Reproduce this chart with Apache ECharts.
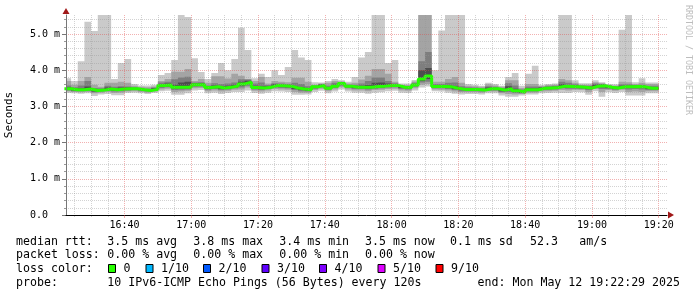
<!DOCTYPE html>
<html><head><meta charset="utf-8">
<script src="https://cdn.jsdelivr.net/npm/echarts@6/dist/echarts.min.js"></script>
<style>html,body{margin:0;padding:0;background:#fff}#c{width:697px;height:297px}</style>
</head><body><div id="c"></div>
<script>
// ---- time range / steps ----
const stepStart = '16:22';      // first RRD step boundary
const stepMinutes = 2;          // 120 s probe step
const viewStart = '16:22:29';
const viewEnd = '19:22:29';

// ---- tick labels ----
const xMajorTicks = ['16:40','17:00','17:20','17:40','18:00','18:20','18:40','19:00','19:20'];
const xMinorTicks = ['16:25','16:30','16:35','16:45','16:50','16:55','17:05','17:10','17:15','17:25','17:30','17:35','17:45','17:50','17:55','18:05','18:10','18:15','18:25','18:30','18:35','18:45','18:50','18:55','19:05','19:10','19:15'];
const yMajorTicks = [0,1,2,3,4,5];
const yMinorTicks = [0.2,0.4,0.6,0.8,1.2,1.4,1.6,1.8,2.2,2.4,2.6,2.8,3.2,3.4,3.6,3.8,4.2,4.4,4.6,4.8,5.2,5.4];
const yMax = 5.525;

// ---- sorted ping values per step (ms) ----
const p1 = [3.37,3.36,3.35,3.36,3.29,3.33,3.34,3.31,3.31,3.37, 3.38,3.36,3.34,3.37,3.42,3.43,3.32,3.32,3.36,3.44, 3.45,3.36,3.38,3.34,3.37,3.40,3.40,3.44,3.37,3.35, 3.38,3.42,3.41,3.40,3.32,3.32,3.33,3.40,3.43,3.36, 3.41,3.47,3.41,3.38,3.38,3.35,3.38,3.39,3.42,3.43, 3.38,3.37,3.44,3.52,3.55,3.42,3.41,3.38,3.35,3.33, 3.34,3.34,3.33,3.36,3.36,3.30,3.27,3.27,3.30,3.33, 3.33,3.36,3.37,3.38,3.37,3.37,3.40,3.39,3.32,3.42, 3.27,3.39,3.37,3.40,3.30,3.30,3.30,3.36,3.36];
const p2 = [3.41,3.40,3.39,3.40,3.36,3.38,3.40,3.37,3.38,3.41, 3.42,3.40,3.38,3.41,3.47,3.49,3.40,3.41,3.43,3.50, 3.51,3.42,3.44,3.41,3.43,3.46,3.47,3.52,3.43,3.41, 3.44,3.48,3.47,3.46,3.40,3.38,3.38,3.45,3.49,3.42, 3.47,3.53,3.47,3.44,3.44,3.42,3.45,3.46,3.48,3.49, 3.44,3.43,3.50,3.60,3.62,3.47,3.46,3.44,3.41,3.39, 3.39,3.39,3.38,3.41,3.41,3.36,3.34,3.33,3.34,3.38, 3.38,3.41,3.42,3.43,3.45,3.44,3.46,3.45,3.40,3.48, 3.40,3.45,3.43,3.46,3.40,3.41,3.40,3.42,3.42];
const p3 = [3.44,3.42,3.42,3.43,3.39,3.41,3.43,3.41,3.42,3.44, 3.45,3.43,3.41,3.43,3.51,3.53,3.45,3.46,3.47,3.54, 3.55,3.46,3.48,3.45,3.47,3.50,3.52,3.57,3.47,3.45, 3.48,3.52,3.51,3.50,3.45,3.42,3.41,3.49,3.53,3.46, 3.51,3.57,3.51,3.48,3.48,3.47,3.49,3.50,3.52,3.53, 3.48,3.47,3.54,3.66,3.68,3.50,3.50,3.48,3.45,3.42, 3.42,3.42,3.41,3.44,3.44,3.39,3.40,3.37,3.36,3.41, 3.41,3.45,3.46,3.47,3.50,3.49,3.49,3.48,3.45,3.51, 3.48,3.48,3.46,3.49,3.47,3.48,3.47,3.45,3.45];
const p4 = [3.46,3.44,3.44,3.45,3.41,3.43,3.46,3.44,3.45,3.47, 3.47,3.45,3.43,3.45,3.55,3.56,3.50,3.50,3.50,3.57, 3.58,3.49,3.51,3.48,3.50,3.53,3.57,3.62,3.50,3.48, 3.51,3.55,3.54,3.53,3.48,3.45,3.44,3.52,3.56,3.48, 3.54,3.60,3.54,3.51,3.51,3.50,3.52,3.53,3.55,3.56, 3.51,3.50,3.57,3.71,3.76,3.53,3.53,3.51,3.48,3.45, 3.45,3.45,3.43,3.47,3.47,3.42,3.45,3.40,3.38,3.44, 3.44,3.48,3.49,3.50,3.53,3.52,3.52,3.51,3.48,3.54, 3.53,3.51,3.49,3.52,3.51,3.52,3.51,3.48,3.48];
const median = [3.49,3.46,3.46,3.48,3.44,3.45,3.48,3.46,3.48,3.49, 3.49,3.46,3.44,3.47,3.58,3.59,3.53,3.53,3.53,3.60, 3.60,3.52,3.54,3.51,3.53,3.56,3.62,3.67,3.52,3.51, 3.53,3.58,3.57,3.56,3.51,3.48,3.46,3.54,3.58,3.50, 3.56,3.63,3.56,3.53,3.53,3.53,3.55,3.56,3.58,3.58, 3.53,3.52,3.59,3.76,3.84,3.55,3.55,3.54,3.50,3.47, 3.47,3.47,3.45,3.49,3.49,3.45,3.49,3.43,3.40,3.46, 3.46,3.50,3.51,3.52,3.56,3.55,3.54,3.53,3.51,3.56, 3.57,3.53,3.51,3.54,3.54,3.55,3.54,3.50,3.50];
const p7 = [3.53,3.49,3.50,3.55,3.47,3.48,3.52,3.49,3.52,3.52, 3.51,3.48,3.46,3.50,3.62,3.63,3.60,3.66,3.68,3.63, 3.63,3.55,3.58,3.55,3.57,3.60,3.68,3.71,3.57,3.56, 3.56,3.61,3.60,3.59,3.56,3.53,3.50,3.56,3.60,3.53, 3.60,3.65,3.58,3.56,3.57,3.59,3.65,3.66,3.63,3.61, 3.55,3.54,3.62,4.00,4.06,3.58,3.58,3.58,3.56,3.51, 3.50,3.49,3.47,3.52,3.51,3.48,3.56,3.49,3.43,3.50, 3.50,3.52,3.53,3.54,3.61,3.59,3.57,3.55,3.54,3.60, 3.60,3.55,3.53,3.57,3.57,3.57,3.57,3.53,3.53];
const p8 = [3.58,3.53,3.58,3.70,3.51,3.50,3.57,3.54,3.56,3.55, 3.53,3.50,3.49,3.52,3.66,3.68,3.75,3.80,3.82,3.66, 3.67,3.58,3.64,3.62,3.63,3.66,3.75,3.74,3.63,3.66, 3.59,3.64,3.63,3.62,3.65,3.62,3.56,3.58,3.62,3.57, 3.65,3.67,3.60,3.60,3.63,3.70,3.80,3.80,3.70,3.64, 3.57,3.56,3.65,4.25,4.50,3.62,3.62,3.65,3.66,3.56, 3.53,3.52,3.50,3.56,3.54,3.51,3.64,3.58,3.47,3.55, 3.55,3.54,3.56,3.57,3.68,3.65,3.61,3.58,3.57,3.63, 3.62,3.57,3.55,3.61,3.61,3.59,3.60,3.57,3.57];
const p9 = [3.70,3.60,3.70,3.81,3.60,3.54,3.65,3.65,3.68,3.65, 3.57,3.54,3.53,3.55,3.70,3.76,3.96,3.96,4.03,3.70, 3.76,3.65,3.83,3.83,3.77,3.90,3.85,3.76,3.70,3.81, 3.63,3.70,3.68,3.67,3.79,3.79,3.68,3.60,3.63,3.65, 3.70,3.69,3.63,3.65,3.74,3.85,4.03,4.03,3.90,3.68, 3.59,3.59,3.69,5.60,5.60,3.68,3.68,3.76,3.81,3.65, 3.57,3.56,3.54,3.61,3.58,3.54,3.72,3.72,3.51,3.62, 3.62,3.56,3.59,3.60,3.76,3.72,3.65,3.60,3.60,3.67, 3.64,3.59,3.58,3.68,3.67,3.62,3.65,3.62,3.62];
const p10 = [3.78,3.70,4.25,5.34,5.08,5.60,5.60,3.76,4.20,4.31, 3.62,3.58,3.58,3.60,3.87,3.92,4.28,5.60,5.47,4.33, 3.95,3.76,3.92,4.20,4.00,4.31,5.17,4.56,3.78,3.90, 3.81,4.00,3.87,4.09,4.56,4.35,4.28,3.67,3.66,3.70, 3.76,3.72,3.68,3.81,4.35,4.50,5.60,5.60,4.20,4.28, 3.63,3.63,3.73,5.60,5.60,4.00,5.10,5.60,5.60,5.60, 3.62,3.60,3.57,3.65,3.62,3.57,3.81,3.92,3.57,3.90, 4.12,3.60,3.62,3.63,5.60,5.60,3.72,3.64,3.64,3.72, 3.67,3.62,3.61,5.12,5.60,3.67,3.78,3.66,3.66];

// ---- legend texts ----
const rttLabel = 'median rtt:';
const rttStats = ['3.5 ms avg','3.8 ms max','3.4 ms min','3.5 ms now','0.1 ms sd','52.3','am/s'];
const lossLabel = 'packet loss:';
const lossStats = ['0.00 % avg','0.00 % max','0.00 % min','0.00 % now'];
const lossColorLabel = 'loss color:';
const lossNames = ['0','1/10','2/10','3/10','4/10','5/10','9/10'];
const lossColors = ['#26ff00','#00b8ff','#0059ff','#5e00ff','#7e00ff','#dd00ff','#ff0000'];
const probeLabel = 'probe:';
const probeText = '10 IPv6-ICMP Echo Pings (56 Bytes) every 120s';
const endText = 'end: Mon May 12 19:22:29 2025';
const watermark = 'RRDTOOL / TOBI OETIKER';
const yTitle = 'Seconds';

// ---- build ----
const toMin = s => { const p = s.split(':').map(Number); return p[0]*60 + p[1] + (p[2]||0)/60; };
const fmtTime = v => { const m = Math.round(v); return String(Math.floor(m/60)).padStart(2,'0') + ':' + String(m%60).padStart(2,'0'); };
const x0 = toMin(stepStart);
const xs = [];
for (let k = 0; k <= median.length; k++) xs.push(x0 + k*stepMinutes);
const idx = k => Math.min(k, median.length-1);
const pts = arr => xs.map((x,k) => [x, arr[idx(k)]]);
const xMin = toMin(viewStart), xMax = toMin(viewEnd);
const MONO = '"DejaVu Sans Mono", monospace';

// smoke bands: outer (p1..p10) lightest, inner darker
function bandSeries(lo, hi, color) {
  return {
    type:'custom', coordinateSystem:'cartesian2d', silent:true, clip:true,
    data: lo.map((v,k) => [xs[k], lo[k], hi[k], xs[k+1]]),
    encode:{x:[0,3], y:[1,2]},
    renderItem: (params, api) => {
      if (params.dataIndex !== 0) return null;
      const top = [], bot = [];
      for (let k = 0; k < lo.length; k++) {
        top.push(api.coord([xs[k], hi[k]]), api.coord([xs[k+1], hi[k]]));
        bot.push(api.coord([xs[k], lo[k]]), api.coord([xs[k+1], lo[k]]));
      }
      return {type:'polygon', shape:{points: top.concat(bot.reverse())}, style:{fill: color}};
    }
  };
}
const series = [
  bandSeries(p1, p10, '#cacaca'),
  bandSeries(p2, p9, '#a4a4a4'),
  bandSeries(p3, p8, '#7e7e7e'),
  bandSeries(p4, p7, '#4e4e4e'),
  {type:'line', step:'end', data: pts(median), symbol:'none', silent:true, z:3,
   lineStyle:{color: lossColors[0], width:3}}
];

const majorGrid = 'rgba(225,70,70,0.42)';
const minorGrid = 'rgba(150,150,150,0.42)';

const xAxis = [
  {type:'value', position:'bottom', min:xMin, max:xMax, z:12,
   axisLine:{show:true, lineStyle:{color:'#000', width:1}},
   axisTick:{show:true, customValues: xMajorTicks.map(toMin), length:3, lineStyle:{color:majorGrid}},
   axisLabel:{show:true, customValues: xMajorTicks.map(toMin), formatter: fmtTime, fontFamily: MONO, fontSize:10, color:'#000', margin:5},
   splitLine:{show:true, lineStyle:{color:majorGrid, type:[1,1], width:1}}},
  {type:'value', position:'bottom', min:xMin, max:xMax, z:9,
   axisLine:{show:false},
   axisTick:{show:true, customValues: xMinorTicks.map(toMin), length:2, lineStyle:{color:minorGrid}},
   axisLabel:{show:false},
   splitLine:{show:true, lineStyle:{color:minorGrid, type:[1,1], width:1}}},
  {type:'value', position:'bottom', min:xMin, max:xMax, z:13,
   axisLine:{show:true, symbol:['none','triangle'], symbolSize:[7,6], symbolOffset:[0,4], lineStyle:{color:'#a01818', width:0}},
   axisTick:{show:false}, axisLabel:{show:false}, splitLine:{show:false}}
];
const yAxis = [
  {type:'value', position:'left', min:0, max:yMax, z:10,
   name: yTitle, nameLocation:'middle', nameGap:51, nameRotate:90,
   nameTextStyle:{fontFamily: MONO, fontSize:11, color:'#000'},
   axisLine:{show:true, lineStyle:{color:'#777', width:1}},
   axisTick:{show:true, customValues: yMajorTicks, length:4, lineStyle:{color:'#777'}},
   axisLabel:{show:true, customValues: yMajorTicks, formatter: v => v === 0 ? '0.0  ' : v.toFixed(1) + ' m', fontFamily: MONO, fontSize:10, color:'#000', margin:6},
   splitLine:{show:true, lineStyle:{color:majorGrid, type:[1,1], width:1}}},
  {type:'value', position:'left', min:0, max:yMax, z:9,
   axisLine:{show:false},
   axisTick:{show:true, customValues: yMinorTicks, length:2, lineStyle:{color:'#999'}},
   axisLabel:{show:false},
   splitLine:{show:true, lineStyle:{color:minorGrid, type:[1,1], width:1}}},
  {type:'value', position:'left', min:0, max:yMax, z:13,
   axisLine:{show:true, symbol:['none','triangle'], symbolSize:[7,6], symbolOffset:[0,4], lineStyle:{color:'#a01818', width:0}},
   axisTick:{show:false}, axisLabel:{show:false}, splitLine:{show:false}}
];

// legend graphics
const LF = 11.6;
const txt = (s, x, y, align) => ({type:'text', x, y, silent:true,
  style:{text:s, fill:'#000', fontFamily: MONO, fontSize: LF, align: align || 'left', verticalAlign:'middle'}});
const g = [];
const row1 = 241.5, row2 = 255.2, row3 = 269, row4 = 282.7;
g.push(txt(rttLabel, 16, row1));
[107.3,193.3,279.3,365,450,530,579.3].forEach((x,i) => g.push(txt(rttStats[i], x, row1)));
g.push(txt(lossLabel, 16, row2));
[107.3,193.3,279.3,365].forEach((x,i) => g.push(txt(lossStats[i], x, row2)));
g.push(txt(lossColorLabel, 16, row3));
[108.5,146,203.5,262,319.5,378,436].forEach((x,i) => {
  g.push({type:'rect', silent:true, shape:{x:x, y:row3-4.5, width:7, height:8},
    style:{fill: lossColors[i], stroke:'#000', lineWidth:1}});
  g.push(txt(lossNames[i], x + 15, row3));
});
g.push(txt(probeLabel, 16, row4));
g.push(txt(probeText, 107.3, row4));
g.push(txt(endText, 680, row4, 'right'));
g.push({type:'text', x:688, y:5, rotation:-Math.PI/2, silent:true,
  style:{text: watermark, fill:'#bdbdbd', fontFamily: MONO, fontSize:8.3, align:'left', verticalAlign:'middle'}});

const chart = echarts.init(document.getElementById('c'), null, {renderer:'canvas'});
chart.setOption({
  animation:false,
  backgroundColor:'#fff',
  grid:{left:66, right:30, top:15, bottom:82, containLabel:false, outerBoundsMode:'none'},
  xAxis, yAxis, series,
  graphic: g
});
</script></body></html>
